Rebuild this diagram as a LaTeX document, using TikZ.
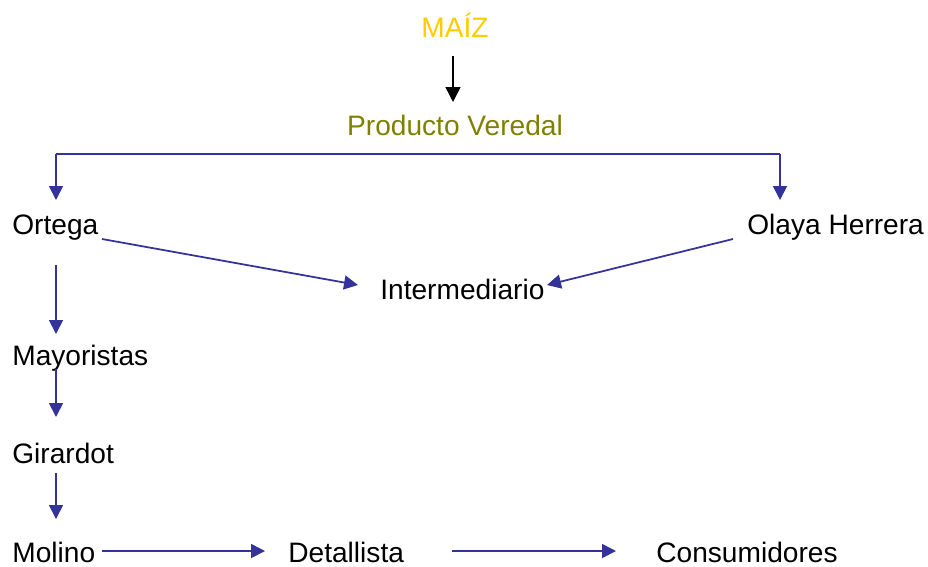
\documentclass[tikz,border=0pt]{standalone}
\usepackage{fontspec}
\setmainfont{Liberation Sans}
\usepackage{xcolor}
\usepackage{tikz}
\usetikzlibrary{
    arrows.meta,
    positioning
}
\definecolor{flowblue}{HTML}{333399}
\definecolor{maizyellow}{HTML}{FFCC00}
\definecolor{veredaolive}{HTML}{808000}
\tikzset{
    word/.style={inner sep=0pt, anchor=base west, font=\fontsize{16}{19}\selectfont},
    flow/.style={draw=flowblue, line width=1pt, -{Triangle[length=0.28cm,width=0.28cm]}},
    firstflow/.style={draw=black, line width=0.8pt, -{Triangle[length=0.3cm,width=0.3cm]}}
}

\begin{document}
\begin{tikzpicture}[x=0.02cm,y=-0.02cm]
\useasboundingbox (0,0) rectangle (928,566);
% Product
\node[word,anchor=base,text=maizyellow] (maiz) at (455,37) {MAÍZ};
\node[word,anchor=base,text=veredaolive] (vereda) at (455,135) {Producto Veredal};
% Places and buyers
\node[word] (ortega) at (12,234) {Ortega};
\node[word] (olaya) at (747,234) {Olaya Herrera};
\node[word] (interm) at (380,299) {Intermediario};
\node[word] (mayor) at (12,365) {Mayoristas};
\node[word] (girardot) at (12,463) {Girardot};
\node[word] (molino) at (12,562) {Molino};
\node[word] (detal) at (288,562) {Detallista};
\node[word] (consum) at (656,562) {Consumidores};

% Arrow ends
\coordinate (maizOut) at (453,56);
\coordinate (veredaIn) at (453,102);
\coordinate (splitL) at (56,154);
\coordinate (splitR) at (780,154);
\coordinate (ortegaIn) at (56,200);
\coordinate (olayaIn) at (780,200);
\coordinate (ortegaOut) at (102,239);
\coordinate (olayaOut) at (733,239);
\coordinate (intermL) at (358,285);
\coordinate (intermR) at (547,285);
\coordinate (ortegaDown) at (56,265);
\coordinate (mayorIn) at (56,334);
\coordinate (mayorOut) at (56,369);
\coordinate (girardotIn) at (56,417);
\coordinate (girardotOut) at (56,473);
\coordinate (molinoIn) at (56,519);
\coordinate (molinoOut) at (102,551);
\coordinate (detalIn) at (265,551);
\coordinate (detalOut) at (452,551);
\coordinate (consumIn) at (616,551);

% Flow of the maize
\draw[firstflow] (maizOut) -- (veredaIn);
\draw[flowblue, line width=1pt] (splitL) -- (splitR);
\draw[flow] (splitL) -- (ortegaIn);
\draw[flow] (splitR) -- (olayaIn);
\draw[flow] (ortegaOut) -- (intermL);
\draw[flow] (olayaOut) -- (intermR);
\draw[flow] (ortegaDown) -- (mayorIn);
\draw[flow] (mayorOut) -- (girardotIn);
\draw[flow] (girardotOut) -- (molinoIn);
\draw[flow] (molinoOut) -- (detalIn);
\draw[flow] (detalOut) -- (consumIn);
\end{tikzpicture}
\end{document}
